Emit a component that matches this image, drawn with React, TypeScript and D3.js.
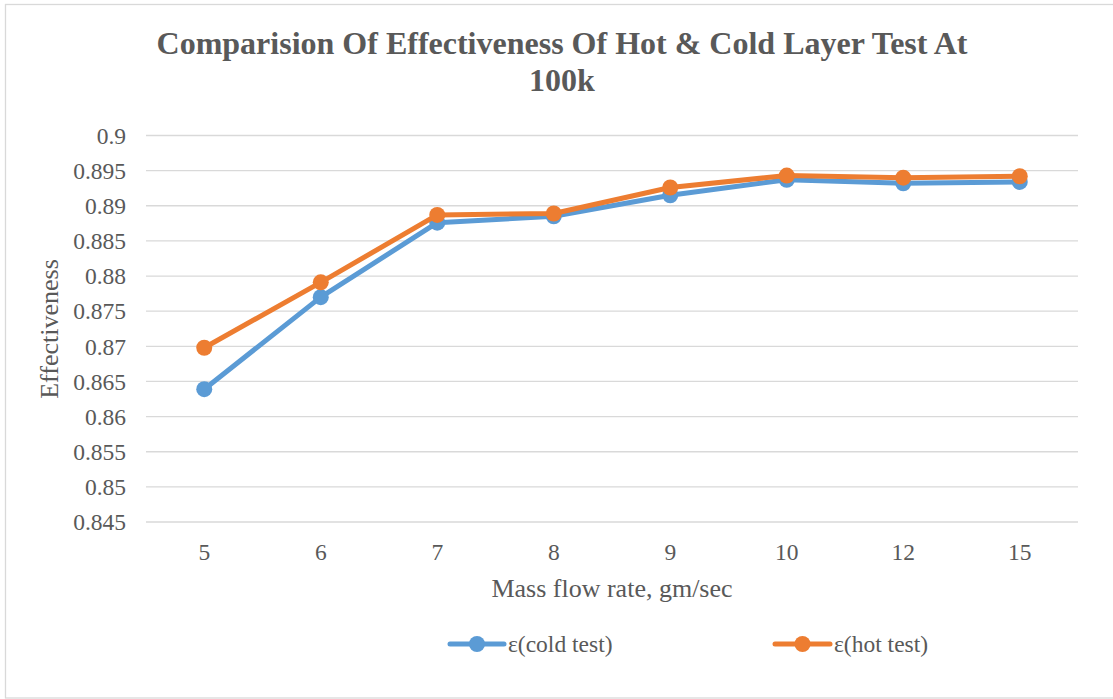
import React from "react";
import * as d3 from "d3";

const categories = ["5", "6", "7", "8", "9", "10", "12", "15"];
const coldValues = [0.8639, 0.877, 0.8876, 0.8885, 0.8915, 0.8937, 0.8932, 0.8934];
const hotValues = [0.8698, 0.8791, 0.8887, 0.8889, 0.8926, 0.8943, 0.894, 0.8942];
const yTicks = [0.845, 0.85, 0.855, 0.86, 0.865, 0.87, 0.875, 0.88, 0.885, 0.89, 0.895, 0.9];
const seriesNames = ["ε(cold test)", "ε(hot test)"];
const seriesColors = ["#5B9BD5", "#ED7D31"];

const W = 1113;
const H = 699;
const plot = { left: 146, right: 1078, top: 135.5, bottom: 522 };
const textColor = "#595959";
const gridColor = "#d9d9d9";
const font = "'Liberation Serif', 'Times New Roman', serif";

export default function App() {
  const x = d3.scaleBand<string>().domain(categories).range([plot.left, plot.right]);
  const y = d3.scaleLinear().domain([0.845, 0.9]).range([plot.bottom, plot.top]);
  const cx = (c: string) => (x(c) as number) + x.bandwidth() / 2;
  const line = d3
    .line<number>()
    .x((_, i) => cx(categories[i]))
    .y((d) => y(d));
  const series = [coldValues, hotValues];
  const legendItems = [
    { x0: 450, x1: 504, text: 508 },
    { x0: 775, x1: 830, text: 834 },
  ];
  const legendY = 644;

  return (
    <svg
      width={W}
      height={H}
      style={{ position: "absolute", left: 0, top: 0, background: "#fff" }}
      fontFamily={font}
    >
      <rect x={0} y={0} width={W} height={H} fill="#fff" />
      <rect x={5.5} y={4.5} width={W + 10} height={693.5} fill="none" stroke={gridColor} strokeWidth={1.3} />
      <text x={562} y={54} textAnchor="middle" fontSize={32} fontWeight="bold" fill={textColor}>
        Comparision Of Effectiveness Of Hot &amp; Cold Layer Test At
      </text>
      <text x={562} y={91} textAnchor="middle" fontSize={32} fontWeight="bold" fill={textColor}>
        100k
      </text>
      {yTicks.map((t) => (
        <g key={t}>
          <line x1={plot.left} x2={plot.right} y1={y(t)} y2={y(t)} stroke={gridColor} strokeWidth={1.3} />
          <text x={126} y={y(t)} dy="0.35em" textAnchor="end" fontSize={23.5} fill={textColor}>
            {d3.format("")(t)}
          </text>
        </g>
      ))}
      {categories.map((c) => (
        <text key={c} x={cx(c)} y={560} textAnchor="middle" fontSize={23.5} fill={textColor}>
          {c}
        </text>
      ))}
      <text x={612} y={597} textAnchor="middle" fontSize={26} fill={textColor}>
        Mass flow rate, gm/sec
      </text>
      <text
        transform={`translate(58,329) rotate(-90)`}
        textAnchor="middle"
        fontSize={26}
        fill={textColor}
      >
        Effectiveness
      </text>
      {series.map((vals, si) => (
        <g key={si}>
          <path d={line(vals) as string} fill="none" stroke={seriesColors[si]} strokeWidth={5} strokeLinejoin="round" strokeLinecap="round" />
          {vals.map((v, i) => (
            <circle key={i} cx={cx(categories[i])} cy={y(v)} r={8} fill={seriesColors[si]} />
          ))}
        </g>
      ))}
      {legendItems.map((l, si) => (
        <g key={si}>
          <line x1={l.x0} x2={l.x1} y1={legendY} y2={legendY} stroke={seriesColors[si]} strokeWidth={5} strokeLinecap="round" />
          <circle cx={(l.x0 + l.x1) / 2} cy={legendY} r={8} fill={seriesColors[si]} />
          <text x={l.text} y={legendY} dy="0.35em" fontSize={23.5} fill={textColor}>
            {seriesNames[si]}
          </text>
        </g>
      ))}
    </svg>
  );
}
